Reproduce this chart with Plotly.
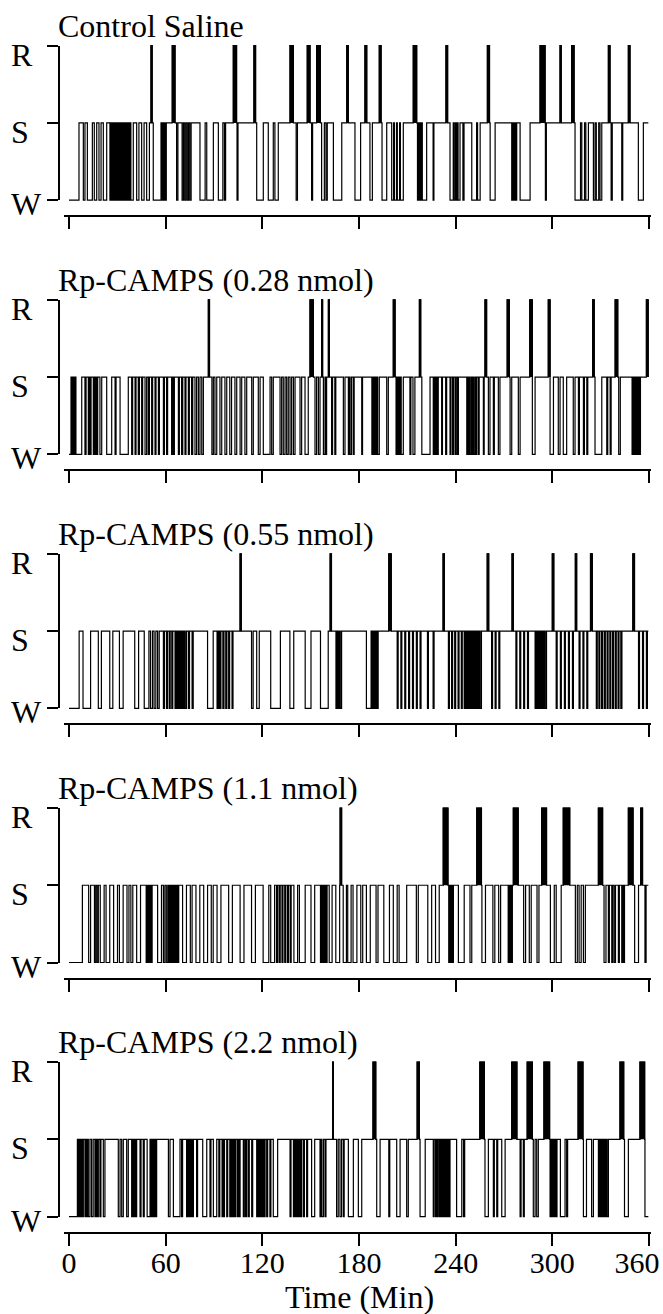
import plotly.graph_objects as go

# ---------------- data (minutes) ----------------
TITLES = ["Control Saline", "Rp-CAMPS (0.28 nmol)", "Rp-CAMPS (0.55 nmol)",
          "Rp-CAMPS (1.1 nmol)", "Rp-CAMPS (2.2 nmol)"]
STATE_LABELS = ["W", "S", "R"]          # state codes 0, 1, 2
X_TICKS = [0, 60, 120, 180, 240, 300, 360]
X_TICK_TEXT = ["0", "60", "120", "180", "240", "300", "360"]
X_LABEL = "Time (Min)"
END_TIMES = [359.6, 359.6, 359.6, 359.6, 359.6]

WAKE_1 = [(0, 6.2), (8.9, 9.9), (11.4, 14.5), (15.7, 17.2), (18.6, 19.9), (21.3, 23.4), (25.4, 26), (26.6, 27.2),
          (27.8, 28.4), (29, 29.6), (30.2, 30.8), (31.4, 32), (32.6, 33.2), (33.8, 34.4), (35, 35.6), (36.2, 36.8),
          (37.4, 38), (38.4, 39.9), (42, 43.4), (45.1, 46.6), (48.2, 49.9), (52.3, 57.1), (57.6, 58.2), (58.7, 59.3),
          (59.8, 60.4), (66.8, 67.6), (70.2, 71), (71.8, 72.6), (73.4, 74.2), (75, 75.8), (81.3, 84.5), (85.5, 89.6),
          (92.7, 95.5), (96.5, 97.2), (104.3, 104.9), (116.5, 120.6), (123.7, 126.8), (127.8, 129.9), (141, 141.8),
          (150.6, 151.2), (156.8, 158.5), (159.5, 160.3), (164.1, 169.3), (177.5, 181), (186.8, 188.3),
          (194.3, 197.2), (200.3, 201.5), (202, 203.3), (203.8, 205.2), (205.7, 207.5), (216.3, 216.8),
          (217.3, 217.8), (218.3, 218.8), (219.3, 222), (226, 226.5), (236.5, 238.5), (239, 239.8), (240.3, 241),
          (241.5, 242.7), (244.5, 245.2), (250, 253), (253.6, 255.2), (261.4, 264.5), (274.8, 275.3), (276, 276.6),
          (277.2, 277.9), (280, 286.2), (295.7, 296.3), (314.1, 317.5), (318.3, 320), (320.8, 322.4),
          (325.5, 326.5), (327.3, 328.8), (329.6, 330.7), (336.5, 337.2), (343.1, 343.7), (353.4, 356.5)]
REM_1 = [(50.9, 51.6), (64.1, 65.8), (102, 104), (114.8, 115.8), (137.2, 139.3), (147.9, 149.6), (153.7, 156),
         (172.4, 173.4), (183.7, 184.8), (192.6, 193.7), (213.7, 215.8), (234, 235), (259.7, 261), (292.4, 295.5),
         (304.8, 305.5), (312, 313.5), (334.8, 335.8), (347.2, 348.2)]

WAKE_2 = [(0, 1.24), (1.7, 2.0), (2.3, 2.6), (2.9, 3.2), (3.5, 3.8), (4.3, 7.9), (9.9, 10.6), (12, 12.6), (13, 13.7),
          (15.1, 15.7), (16.1, 16.8), (17.2, 17.8), (19.2, 20.3), (23.4, 26.5), (28.6, 29.2), (31.7, 36.8),
          (38.9, 39.5), (41, 41.6), (43, 43.7), (45.1, 45.7), (47.2, 48.2), (49.2, 49.9), (51.3, 51.9), (53.4, 54),
          (55.5, 56.1), (58.6, 59.2), (60.6, 61.2), (63.7, 64.3), (64.8, 65.4), (67.9, 68.5), (69.9, 70.6),
          (72, 72.6), (74.1, 74.7), (76.1, 76.8), (78.2, 79.2), (80.3, 81.3), (82.4, 83.4), (88.7, 89.6),
          (90.6, 91.7), (93.7, 94.8), (96.8, 97.9), (99.8, 100.9), (103, 104.1), (106.2, 107.2), (109.2, 110.3),
          (113.4, 114.4), (117.5, 118.6), (120.6, 124.8), (125.8, 126.8), (131, 132), (133, 134.1), (135.1, 136.1),
          (137.2, 138.2), (139.3, 140.3), (143.4, 144.4), (146.5, 148.5), (152.7, 153.7), (154.8, 155.8),
          (157.9, 158.9), (159.4, 159.9), (163, 163.6), (165, 165.6), (170.3, 171.3), (173.4, 174), (174.5, 175.4),
          (176.5, 177), (181.7, 182.2), (188, 188.5), (188.9, 189.4), (189.8, 190.3), (190.7, 191.2), (191.6, 192.6),
          (197.2, 198.2), (203, 203.5), (204, 204.5), (205, 205.5), (206.2, 207.5), (211.6, 212.2), (213.5, 214.7),
          (219, 224.1), (226.1, 226.6), (227.2, 227.8), (228.5, 229.2), (231.3, 231.8), (233.8, 234.4),
          (236.5, 237), (238, 238.6), (239.6, 240.2), (241, 241.7), (246.9, 247.5), (248, 248.6), (249, 249.8),
          (250.3, 251), (251.5, 252.3), (252.6, 253.1), (254.1, 254.6), (257.2, 257.7), (260.3, 261.3),
          (263.4, 264), (266.5, 267.5), (273.8, 274.8), (278.9, 280), (287.6, 289.3), (298.6, 300.7),
          (303.7, 304.8), (306.8, 308.9), (313, 314.1), (316.2, 316.8), (319.3, 319.9), (321.4, 322),
          (326.5, 330.7), (333.8, 334.4), (335.9, 336.5), (341.2, 342.2), (349.5, 350.1), (350.6, 351.2),
          (351.7, 352.3), (353, 353.6), (354.2, 354.7)]
REM_2 = [(86.5, 87.2), (149.6, 151.7), (156.8, 157.4), (161, 161.6), (201.3, 202.4), (217.5, 218.3),
         (258.2, 259.2), (272, 273.3), (286, 287.6), (297.5, 298.6), (325, 326), (339, 340.6), (358.4, 359.6)]

WAKE_3 = [(0, 6.3), (8.7, 13.4), (18.2, 20.1), (25.3, 27.2), (31.3, 33.6), (40.8, 43.2), (46.7, 49.6),
          (50.6, 51.8), (52.8, 53.9), (55, 56), (58.6, 59.2), (60.5, 61.1), (62.2, 62.8), (63.8, 64.4),
          (65.8, 66.3), (66.7, 67.2), (67.6, 68.1), (68.5, 69), (69.4, 69.9), (70.3, 70.8), (71.2, 71.7),
          (72.1, 72.9), (74.1, 74.8), (76.4, 77.1), (86, 89.5), (91.9, 92.4), (92.8, 93.3), (93.7, 94.3),
          (95.5, 96.2), (97.3, 98), (99.1, 99.7), (101.2, 101.8), (113.3, 114.3), (116.5, 118.1), (125.2, 131.2),
          (137.1, 139.5), (146.6, 150.2), (156.1, 160.9), (165.7, 166.2), (166.6, 167.1), (167.5, 168),
          (168.4, 169.2), (184.6, 187.5), (187.9, 188.4), (188.8, 189.3), (189.7, 190.2), (190.6, 191.1),
          (191.5, 191.9), (203.7, 204.3), (206, 206.6), (208.4, 209), (210.8, 211.4), (213.2, 213.8),
          (215.6, 216.2), (217.9, 218.5), (222.5, 223.1), (226, 226.6), (235.5, 236.1), (237.5, 238.1),
          (239.4, 240), (241.5, 242.1), (243.5, 244.1), (245.3, 245.8), (246.2, 246.7), (247.1, 247.6),
          (248, 248.5), (248.9, 249.4), (249.8, 250.3), (250.7, 251.2), (251.6, 252.1), (252.5, 253),
          (253.4, 253.9), (254.3, 254.8), (255.2, 256), (262.3, 262.9), (264.5, 265.1), (266.8, 267.4),
          (277.4, 278), (279.8, 280.4), (282.2, 282.8), (284.6, 285.2), (289.3, 289.8), (290.2, 290.7),
          (291.1, 291.6), (292, 292.5), (292.9, 293.4), (293.8, 294.3), (294.7, 295.2), (295.6, 296.4),
          (302.4, 303), (305, 305.6), (307.5, 308.1), (310, 310.6), (312.5, 313.1), (316.6, 317.2), (319, 319.6),
          (321.4, 322), (327.3, 327.9), (328.9, 329.5), (330.6, 331.2), (332.3, 332.9), (334, 334.6),
          (335.7, 336.3), (337.4, 338), (339.1, 339.7), (340.8, 341.4), (342.5, 343.2), (353.5, 354.1),
          (356, 356.6), (358.4, 359)]
REM_3 = [(106.2, 106.9), (162.1, 162.9), (198.5, 200), (232.2, 233), (259.6, 260.5), (275, 275.8), (300, 300.9),
         (314.3, 315.1), (323.7, 324.8), (350, 351)]

WAKE_4 = [(0, 8.3), (12.2, 13.4), (15.8, 16.6), (17.4, 18.2), (19.4, 21.8), (23, 25.3), (27.7, 30.1), (31.3, 33.6),
          (36, 37.2), (38.4, 39.6), (42, 44.4), (47.9, 48.5), (49, 49.6), (50.1, 50.7), (51.2, 51.6), (55, 57.4),
          (58.6, 59.5), (60.4, 61.3), (62, 62.6), (63.1, 63.7), (64.2, 64.8), (65.3, 65.9), (66.4, 67),
          (67.5, 68.1), (70.5, 72.9), (75.3, 76.4), (78.8, 81.2), (83.6, 86), (88.3, 89.5), (91.9, 94.3),
          (99.1, 101.4), (106.2, 108.6), (113.3, 115.7), (120.5, 124), (125.2, 127.6), (128.8, 129.5),
          (130.5, 131.1), (132.2, 132.8), (133.9, 134.5), (135.6, 136.2), (137.3, 137.9), (139.6, 141.9),
          (143, 146.6), (150.2, 152.5), (156.1, 156.6), (157, 157.5), (157.9, 158.4), (158.8, 159.3),
          (159.7, 160.2), (161.5, 163.3), (165.6, 168), (170.2, 172.2), (173, 175.1), (176.3, 178.7),
          (181.1, 182.3), (184.6, 187), (190.6, 191.8), (195.4, 198.9), (201.3, 203.7), (204.9, 209.6),
          (215.6, 216.8), (222.7, 225.1), (227.5, 229.8), (235.7, 236.3), (236.8, 237.4), (238, 238.6),
          (241.7, 245.3), (248.9, 250), (256.3, 258.5), (263.1, 264.3), (266.7, 267.9), (272.6, 273.2),
          (273.7, 274.3), (274.6, 275.2), (282.2, 283.4), (285.7, 286.9), (290.5, 291.7), (298.8, 301.2),
          (302.4, 305.5), (314.3, 315.5), (316.6, 317.9), (319.3, 320.5), (332.1, 333.3), (334.8, 335.4),
          (336.9, 337.5), (338.4, 339.2), (341, 341.6), (343.1, 343.6), (344.2, 344.8), (351.1, 353.5),
          (357.5, 358.2)]
REM_4 = [(168.3, 169.2), (232.3, 235.2), (253.1, 256), (275.8, 278.8), (293.4, 296.4), (306.8, 310.8),
         (328.6, 331.2), (347.2, 350.1), (354.9, 356)]

WAKE_5 = [(0, 5.2), (5.6, 5.9), (6.3, 6.6), (7, 7.3), (7.7, 8), (8.4, 8.9), (9.9, 10.5), (11, 11.6), (12, 13),
          (14, 15), (16.1, 16.6), (17, 17.5), (17.8, 18.2), (19.2, 19.8), (21.3, 22.3), (30.6, 31.7), (32.7, 33.7),
          (35.8, 36.8), (38.9, 39.4), (39.9, 40.3), (40.7, 41.1), (41.5, 42), (44.1, 44.7), (46.1, 46.7),
          (48.5, 50.3), (50.7, 51.1), (51.5, 51.9), (52.3, 52.7), (53.1, 53.5), (53.9, 54.4), (61.7, 62.7),
          (64.8, 68.9), (69.9, 70.5), (73, 73.5), (73.9, 74.4), (74.8, 75.3), (75.7, 76.2), (76.6, 77.2),
          (79.2, 79.8), (83, 85.5), (87.5, 88.1), (89.6, 91.7), (93, 93.6), (95, 95.5), (96, 96.5), (97.9, 98.5),
          (99.8, 100.4), (101, 101.5), (102, 102.5), (103, 103.5), (104.5, 105), (105.6, 106.2), (108.2, 108.8),
          (109.6, 110.3), (111.3, 111.9), (113.4, 114), (116.5, 117), (117.4, 117.9), (118.3, 118.8),
          (119.2, 119.7), (120.1, 120.6), (121, 121.7), (122.7, 123.3), (124.7, 125.3), (126.8, 129.5),
          (137.2, 137.8), (139.3, 139.8), (140.2, 140.7), (141.1, 141.6), (142, 142.5), (142.9, 143.4),
          (143.9, 144.4), (145.5, 146.1), (147.5, 148.1), (150.6, 152.5), (155.8, 156.4), (156.9, 157.9),
          (158.9, 159.5), (166.1, 167.1), (168.2, 169.2), (170.3, 170.8), (173.4, 176.5), (179.6, 181.7),
          (191, 193.1), (198.5, 199.1), (203.4, 205.5), (209.6, 210.6), (217.9, 221.1), (226.1, 226.6),
          (227.5, 228), (228.7, 229.2), (230, 230.5), (231.2, 231.7), (232.4, 232.9), (233.6, 234.1),
          (234.8, 235.3), (236, 236.5), (240.6, 243.8), (244.9, 245.6), (258.2, 260.3), (263.4, 264),
          (265.5, 266.1), (268.6, 270.7), (280, 280.6), (282, 282.6), (288.2, 289.3), (290.3, 291.3),
          (298.6, 299.1), (299.6, 300.1), (300.6, 301.1), (301.6, 302.1), (302.4, 302.9), (305, 307.9),
          (308.9, 309.5), (319.3, 321.2), (324.4, 325.5), (328.6, 329.1), (329.5, 330), (330.4, 330.9),
          (331.3, 331.8), (332.2, 332.7), (333.1, 333.6), (334, 334.8), (344.8, 347.2), (357.5, 359.6)]
REM_5 = [(163.6, 164.1), (188.7, 190.4), (216.1, 217.5), (255, 257.8), (274.8, 278), (284.4, 287.6),
         (294.8, 298.3), (316, 319), (342, 344.3), (354.4, 357.3)]

WAKES = [WAKE_1, WAKE_2, WAKE_3, WAKE_4, WAKE_5]
REMS = [REM_1, REM_2, REM_3, REM_4, REM_5]


def hypnogram(wake, rem, end):
    bounds = sorted(set([0.0, end] + [t for b in wake + rem for t in b]))
    bounds = [b for b in bounds if b <= end]
    xs, ys = [], []
    for t in bounds[:-1]:
        st = 1
        if any(a <= t < b for a, b in rem):
            st = 2
        elif any(a <= t < b for a, b in wake):
            st = 0
        if ys and ys[-1] == st:
            continue
        xs.append(t)
        ys.append(st)
    xs.append(end)
    ys.append(ys[-1])
    return xs, ys


def rem_blocks(rem):
    bx, by = [], []
    for a, b in rem:
        bx += [a, a, b, b, None]
        by += [1, 2, 2, 1, None]
    return bx, by


# ---------------- layout geometry (pixels) ----------------
W, H = 663, 1314
R0, STEP, SPAN, GAP, PAD = 45.7, 254.1, 154.5, 16, 5
X_LEFT, X_RIGHT = 64.17, 650.6
X_RANGE = [-3, 361]
Y_AXIS_X = 59
FONT = "Liberation Serif"
TICK_FONT = dict(size=30, family=FONT, color="black")


def px_x(p):
    return p / W


def px_y(p):
    return 1 - p / H


fig = go.Figure()
layout = dict(template="none", width=W, height=H, margin=dict(l=0, r=0, t=0, b=0, pad=0, autoexpand=False),
              paper_bgcolor="white", plot_bgcolor="rgba(0,0,0,0)", showlegend=False,
              font=dict(family=FONT, color="black", size=30))
annotations = []

for i in range(5):
    n = i + 1
    m = i + 6
    r_px = R0 + i * STEP
    w_px = r_px + SPAN
    unit = SPAN / 2
    xs, ys = hypnogram(WAKES[i], REMS[i], END_TIMES[i])
    bx, by = rem_blocks(REMS[i])
    fig.add_trace(go.Scatter(x=bx, y=by, mode="lines", fill="toself", fillcolor="black",
                             line=dict(color="black", width=1.2), xaxis=f"x{n}", yaxis=f"y{n}",
                             hoverinfo="skip"))
    fig.add_trace(go.Scatter(x=xs, y=ys, mode="lines", line=dict(color="black", width=1.2, shape="hv"),
                             xaxis=f"x{n}", yaxis=f"y{n}", hoverinfo="skip"))
    fig.add_trace(go.Scatter(x=[None], y=[None], mode="lines", xaxis=f"x{m}", yaxis=f"y{m}", hoverinfo="skip"))

    xk = "xaxis" if n == 1 else f"xaxis{n}"
    yk = "yaxis" if n == 1 else f"yaxis{n}"
    labels = X_TICK_TEXT[:-1] + [""]
    layout[xk] = dict(domain=[px_x(X_LEFT), px_x(X_RIGHT)], range=X_RANGE, anchor="free",
                      position=px_y(w_px + GAP), showline=True, linewidth=2, linecolor="black",
                      ticks="outside", ticklen=12, tickwidth=2, tickcolor="black",
                      tickvals=X_TICKS, ticktext=labels, ticklabeloverflow="allow",
                      ticklabelstandoff=-9, automargin=False,
                      showticklabels=(n == 5), tickfont=TICK_FONT,
                      showgrid=False, zeroline=False, fixedrange=True)
    layout[yk] = dict(domain=[px_y(w_px + PAD), px_y(r_px - PAD)], automargin=False,
                      range=[-PAD / unit, 2 + PAD / unit], anchor=f"x{n}", visible=False, fixedrange=True)
    layout[f"xaxis{m}"] = dict(domain=[px_x(X_LEFT), px_x(X_RIGHT)], range=X_RANGE, anchor=f"y{m}",
                               visible=False, fixedrange=True, automargin=False)
    layout[f"yaxis{m}"] = dict(domain=[px_y(w_px), px_y(r_px)], range=[0, 2], anchor="free",
                               position=px_x(Y_AXIS_X), showline=True, linewidth=2, linecolor="black",
                               ticks="outside", ticklen=11, tickwidth=2, tickcolor="black",
                               tickvals=[0, 1, 2], showticklabels=False, automargin=False,
                               showgrid=False, zeroline=False, fixedrange=True)
    annotations.append(dict(text=TITLES[i], xref="paper", x=px_x(56), xanchor="left",
                            yref=f"y{m}", y=2, yanchor="bottom", yshift=0, showarrow=False,
                            font=dict(size=32, family=FONT, color="black")))
    for code, lab in enumerate(STATE_LABELS):
        annotations.append(dict(text=lab, xref="paper", x=px_x(9), xanchor="left",
                                yref=f"y{m}", y=code, yanchor="middle",
                                yshift=(-4 if code == 0 else -9), showarrow=False,
                                font=dict(size=32, family=FONT, color="black")))

# last tick label of the bottom axis, nudged left so it stays inside the page (as in the original)
last_w_px = R0 + 4 * STEP + SPAN
fig.add_trace(go.Scatter(x=[None], y=[None], mode="lines", xaxis="x11", yaxis="y5", hoverinfo="skip"))
layout["xaxis11"] = dict(overlaying="x5", range=X_RANGE, anchor="free", position=px_y(last_w_px + GAP),
                         showline=False, ticks="outside", ticklen=12, tickwidth=2, tickcolor="rgba(0,0,0,0)",
                         tickvals=X_TICKS[-1:], ticktext=X_TICK_TEXT[-1:], ticklabelshift=-12,
                         ticklabelstandoff=-9, ticklabeloverflow="allow", tickfont=TICK_FONT,
                         automargin=False, showgrid=False, zeroline=False, fixedrange=True)

annotations.append(dict(text=X_LABEL, xref="x5", x=180, xanchor="center", yref="paper", y=px_y(1297),
                        yanchor="middle", showarrow=False, font=dict(size=32, family=FONT, color="black")))
layout["annotations"] = annotations
fig.update_layout(**layout)
fig.write_html("out.html", config={"displayModeBar": False},
               post_script="document.body.style.margin='0';document.documentElement.style.overflow='hidden';")
